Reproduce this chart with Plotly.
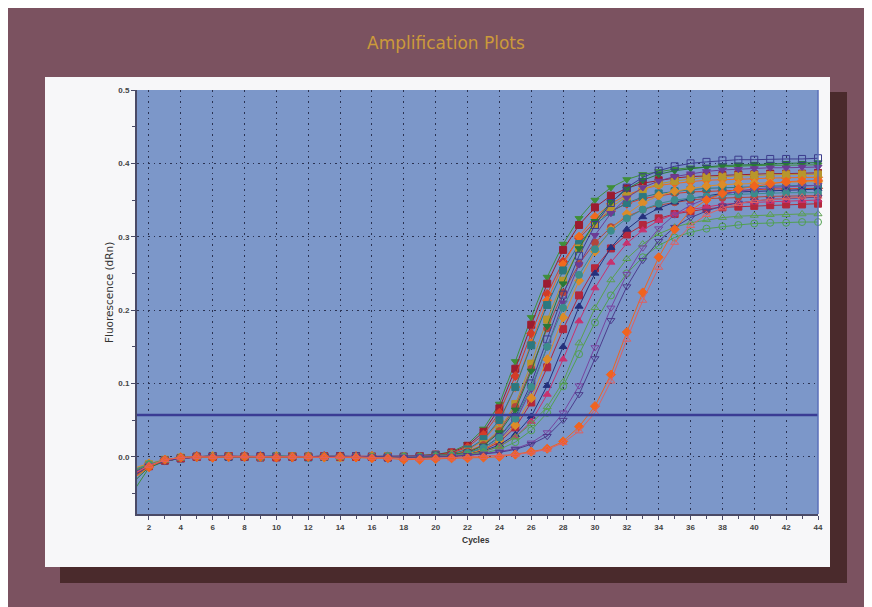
import plotly.graph_objects as go

cycles = list(range(1, 45))
x_tick_vals = list(range(2, 45, 2))
y_tick_vals = [0.0, 0.1, 0.2, 0.3, 0.4, 0.5]
y_tick_text = ["0.0", "0.1", "0.2", "0.3", "0.4", "0.5"]
threshold = 0.057

s01 = [-0.048,-0.015,-0.006,-0.002,0.000,0.001,0.000,0.001,0.000,0.001,0.000,0.000,0.001,0.000,0.000,-0.001,0.000,0.000,0.001,0.003,0.007,0.017,0.038,0.072,0.130,0.190,0.245,0.290,0.325,0.350,0.367,0.378,0.385,0.389,0.392,0.394,0.395,0.396,0.396,0.397,0.397,0.398,0.398,0.398]
s02 = [-0.025,-0.012,-0.005,-0.002,0.000,0.000,0.001,0.000,-0.001,0.000,0.001,0.000,0.000,0.001,0.000,0.000,-0.001,0.000,0.001,0.003,0.006,0.015,0.034,0.066,0.120,0.180,0.236,0.282,0.316,0.340,0.356,0.366,0.373,0.377,0.380,0.382,0.383,0.384,0.385,0.385,0.386,0.386,0.386,0.387]
s03 = [-0.020,-0.010,-0.004,-0.001,0.001,0.000,0.000,0.001,0.000,0.000,-0.001,0.000,0.001,0.000,0.000,0.001,0.000,-0.001,0.000,0.002,0.005,0.013,0.030,0.060,0.110,0.168,0.222,0.266,0.298,0.320,0.335,0.345,0.352,0.356,0.359,0.361,0.362,0.363,0.364,0.364,0.365,0.365,0.365,0.366]
s04 = [-0.030,-0.014,-0.004,-0.001,0.000,-0.001,0.000,0.000,0.001,0.000,0.000,0.000,-0.001,0.000,0.001,0.000,0.000,-0.002,-0.002,0.000,0.003,0.009,0.022,0.048,0.095,0.155,0.213,0.262,0.300,0.327,0.345,0.357,0.365,0.370,0.373,0.375,0.377,0.378,0.379,0.379,0.380,0.380,0.381,0.381]
s05 = [-0.022,-0.011,-0.005,-0.002,0.000,0.001,0.000,0.000,0.000,0.001,0.000,-0.001,0.000,0.000,0.001,0.000,0.000,0.000,0.000,0.002,0.004,0.010,0.024,0.050,0.095,0.152,0.207,0.254,0.290,0.316,0.334,0.346,0.354,0.359,0.362,0.364,0.366,0.367,0.368,0.368,0.369,0.369,0.370,0.370]
s06 = [-0.018,-0.010,-0.004,-0.001,0.000,0.000,0.001,0.000,0.000,0.000,0.001,0.000,0.000,-0.001,0.000,0.000,0.001,0.000,0.000,0.001,0.003,0.007,0.017,0.037,0.072,0.127,0.187,0.240,0.284,0.317,0.340,0.355,0.365,0.372,0.376,0.379,0.381,0.382,0.383,0.384,0.384,0.385,0.385,0.385]
s07 = [-0.028,-0.013,-0.006,-0.002,-0.001,0.000,0.000,0.001,0.000,0.000,0.000,0.001,0.000,0.000,-0.001,0.000,0.000,0.001,0.000,0.001,0.003,0.007,0.016,0.035,0.068,0.120,0.175,0.224,0.263,0.292,0.313,0.327,0.337,0.343,0.347,0.350,0.352,0.353,0.354,0.354,0.355,0.355,0.356,0.356]
s08 = [-0.035,-0.014,-0.006,-0.002,0.000,0.000,0.000,-0.001,0.000,0.001,0.000,0.000,0.000,0.001,0.000,0.000,0.000,0.000,0.001,0.001,0.003,0.006,0.015,0.033,0.064,0.117,0.178,0.236,0.284,0.321,0.347,0.365,0.377,0.385,0.390,0.393,0.395,0.397,0.398,0.399,0.399,0.400,0.400,0.401]
s09 = [-0.024,-0.012,-0.005,-0.002,0.000,0.001,0.000,0.000,0.001,0.000,0.000,0.000,0.000,0.000,0.001,0.000,-0.001,0.000,0.000,0.001,0.002,0.005,0.012,0.027,0.054,0.100,0.160,0.221,0.274,0.316,0.346,0.367,0.381,0.390,0.396,0.400,0.402,0.404,0.405,0.405,0.406,0.406,0.406,0.407]
s10 = [-0.020,-0.011,-0.005,-0.001,0.000,0.000,0.000,0.001,0.000,0.000,0.000,-0.001,0.000,0.001,0.000,0.000,0.000,0.000,0.000,0.001,0.002,0.004,0.010,0.023,0.048,0.092,0.150,0.210,0.262,0.302,0.332,0.353,0.367,0.376,0.382,0.386,0.389,0.391,0.392,0.393,0.394,0.394,0.395,0.395]
s11 = [-0.026,-0.013,-0.005,-0.002,0.000,0.000,0.001,0.000,0.000,-0.001,0.000,0.000,0.001,0.000,0.000,0.000,0.000,-0.001,0.000,0.000,0.002,0.004,0.009,0.020,0.040,0.074,0.122,0.174,0.220,0.257,0.284,0.303,0.316,0.325,0.331,0.335,0.338,0.340,0.341,0.342,0.343,0.344,0.344,0.345]
s12 = [-0.016,-0.009,-0.004,-0.001,0.000,0.001,0.000,0.000,0.000,0.001,0.000,0.000,-0.001,0.000,0.000,0.001,0.000,0.000,-0.001,0.000,0.002,0.004,0.010,0.022,0.043,0.080,0.133,0.190,0.240,0.280,0.310,0.331,0.346,0.356,0.362,0.366,0.369,0.371,0.372,0.373,0.374,0.374,0.375,0.375]
s13 = [-0.022,-0.011,-0.005,-0.002,0.000,0.000,0.000,0.000,0.001,0.000,0.000,0.001,0.000,0.000,0.000,-0.001,0.000,0.000,0.000,0.000,0.001,0.003,0.008,0.016,0.030,0.055,0.097,0.150,0.205,0.250,0.285,0.310,0.327,0.339,0.347,0.352,0.356,0.359,0.361,0.362,0.363,0.364,0.364,0.365]
s14 = [-0.024,-0.012,-0.005,-0.002,-0.001,0.000,0.000,0.000,0.000,0.000,0.001,0.000,0.000,0.000,0.001,0.000,0.000,0.000,0.000,0.000,0.001,0.003,0.007,0.014,0.027,0.048,0.085,0.133,0.185,0.230,0.265,0.291,0.309,0.322,0.331,0.337,0.341,0.344,0.346,0.347,0.348,0.349,0.349,0.350]
s15 = [-0.018,-0.010,-0.004,-0.001,0.000,0.000,0.000,0.000,-0.001,0.000,0.000,0.000,0.001,0.000,0.000,0.000,0.001,0.000,0.000,0.001,0.002,0.005,0.012,0.026,0.052,0.095,0.150,0.203,0.248,0.283,0.308,0.325,0.337,0.345,0.350,0.353,0.355,0.357,0.358,0.359,0.359,0.360,0.360,0.360]
s16 = [-0.030,-0.013,-0.005,-0.002,0.000,0.000,0.000,0.001,0.000,0.000,0.000,0.000,0.000,-0.001,0.000,0.000,0.000,0.001,0.000,0.000,0.001,0.003,0.007,0.014,0.027,0.045,0.068,0.102,0.155,0.203,0.241,0.270,0.290,0.304,0.313,0.319,0.323,0.326,0.328,0.329,0.330,0.330,0.331,0.331]
s17 = [-0.020,-0.011,-0.004,-0.001,0.000,0.000,0.001,0.000,0.000,0.000,0.000,0.001,0.000,0.000,0.000,0.000,-0.001,0.000,0.000,0.000,0.001,0.002,0.005,0.010,0.020,0.036,0.060,0.096,0.140,0.183,0.220,0.250,0.272,0.288,0.299,0.306,0.311,0.314,0.316,0.318,0.319,0.319,0.320,0.320]
s18 = [-0.022,-0.012,-0.005,-0.002,0.000,0.000,0.000,0.000,0.000,0.001,0.000,0.000,0.000,0.000,0.001,0.000,0.000,0.000,0.000,0.000,0.001,0.002,0.004,0.007,0.011,0.019,0.033,0.060,0.097,0.149,0.203,0.249,0.285,0.311,0.330,0.343,0.352,0.358,0.362,0.365,0.367,0.368,0.369,0.370]
s19 = [-0.026,-0.013,-0.006,-0.002,0.000,0.001,0.000,0.000,0.000,0.000,0.000,0.000,0.001,0.000,0.000,0.000,0.000,-0.001,0.000,0.000,0.000,0.002,0.003,0.006,0.010,0.017,0.028,0.050,0.085,0.134,0.186,0.232,0.268,0.294,0.313,0.326,0.335,0.342,0.346,0.349,0.351,0.352,0.353,0.354]
s20 = [-0.030,-0.014,-0.004,-0.001,0.000,-0.001,0.000,0.000,0.000,-0.001,0.000,0.000,0.000,0.000,-0.001,-0.002,-0.002,-0.004,-0.004,-0.003,-0.002,-0.002,-0.001,0.000,0.003,0.007,0.011,0.021,0.041,0.069,0.112,0.170,0.224,0.272,0.310,0.336,0.350,0.359,0.365,0.369,0.372,0.375,0.376,0.377]
s21 = [-0.024,-0.012,-0.004,-0.001,0.000,0.000,0.000,0.001,0.000,0.000,0.000,0.000,-0.001,0.000,0.000,-0.001,-0.001,-0.002,-0.003,-0.002,-0.002,-0.001,0.000,0.001,0.003,0.006,0.010,0.019,0.035,0.060,0.103,0.160,0.213,0.258,0.292,0.315,0.330,0.339,0.345,0.349,0.351,0.353,0.354,0.355]

series_values = [s01, s02, s03, s04, s05, s06, s07, s08, s09, s10, s11,
                 s12, s13, s14, s15, s16, s17, s18, s19, s20, s21]
series_colors = ["#3f8f3a", "#9c1c30", "#d23c28", "#f06a1e", "#2c7880",
                 "#b8962c", "#b4463c", "#287838", "#3c3c8c", "#6c3c94",
                 "#b4283c", "#dc8c28", "#24307c", "#c8326e", "#3c8c8c",
                 "#5aa050", "#50a050", "#7844a0", "#4c3c8c", "#f0641e",
                 "#e06060"]
series_symbols = ["triangle-down", "square", "diamond", "diamond", "square",
                  "square", "circle", "triangle-down", "square-open", "triangle-down",
                  "square", "diamond", "triangle-up", "triangle-up", "circle",
                  "triangle-up-open", "circle-open", "triangle-down-open",
                  "triangle-down-open", "diamond", "triangle-up-open"]

fig = go.Figure()
for vals, col, sym in zip(series_values, series_colors, series_symbols):
    fig.add_trace(go.Scatter(
        x=cycles, y=vals, mode="lines+markers",
        line=dict(color=col, width=1),
        marker=dict(symbol=sym, size=7, color=col,
                    line=dict(color=col, width=1)),
        cliponaxis=False, hoverinfo="skip", showlegend=False))

# threshold line
fig.add_shape(type="line", xref="paper", yref="y", x0=0, x1=1,
              y0=threshold, y1=threshold,
              line=dict(color="#3a3c94", width=2.5), layer="above")

# figure pixel frame (page has an 8px body margin)
L, R, T, B = 129, 810, 82, 506
def px(xp):
    return (xp - L) / (R - L)
def py(yp):
    return (B - yp) / (B - T)

# background decorations
fig.add_shape(type="rect", xref="paper", yref="paper", x0=px(52), x1=px(839),
              y0=py(575), y1=py(84), fillcolor="#4a2a2c", line=dict(width=0), layer="below")
fig.add_shape(type="rect", xref="paper", yref="paper", x0=px(37), x1=px(822),
              y0=py(559), y1=py(69), fillcolor="#f7f7f9", line=dict(width=0), layer="below")
fig.add_shape(type="rect", xref="paper", yref="paper", x0=0, x1=1,
              y0=0, y1=1, fillcolor="#7c97c9", line=dict(width=0), layer="below")
fig.add_shape(type="line", xref="paper", yref="paper", x0=1, x1=1,
              y0=0, y1=1, line=dict(color="#5a6fb8", width=1.5), layer="above")

fig.add_annotation(text="Fluorescence (dRn)", xref="paper", yref="paper",
                   x=px(93), y=py(285), textangle=-90, showarrow=False,
                   font=dict(family="DejaVu Sans", size=10.5, color="#333"))
fig.add_annotation(text="<b>Cycles</b>", xref="paper", yref="paper",
                   x=px(468), y=py(539), showarrow=False,
                   font=dict(family="Liberation Sans", size=8.5, color="#333"))

axis_font = dict(family="Liberation Sans", size=8, color="#444")
grid_dash = "1.5px,4px"
fig.update_layout(
    width=872, height=607,
    margin=dict(l=L, r=872 - R, t=T, b=607 - B),
    paper_bgcolor="#7b5260",
    plot_bgcolor="rgba(0,0,0,0)",
    title=dict(text="Amplification Plots", x=438 / 872, y=1 - 35 / 607,
               xanchor="center", yanchor="middle",
               font=dict(family="DejaVu Sans", size=17, color="#cc9a3a")),
    xaxis=dict(range=[1.25, 44], tickvals=x_tick_vals,
               ticktext=[f"<b>{v}</b>" for v in x_tick_vals],
               showgrid=True, gridcolor="#2a3252", griddash=grid_dash, gridwidth=1.2,
               showline=True, linecolor="#4a4a66", linewidth=2,
               ticks="outside", ticklen=4, tickcolor="#4a4a66",
               minor=dict(dtick=1, ticks="outside", ticklen=3, tickcolor="#4a4a66", showgrid=False),
               tickfont=axis_font, zeroline=False),
    yaxis=dict(range=[-0.078, 0.5], tickvals=y_tick_vals,
               ticktext=[f"<b>{t}</b>" for t in y_tick_text],
               showgrid=True, gridcolor="#2a3252", griddash=grid_dash, gridwidth=1.2,
               showline=True, linecolor="#4a4a66", linewidth=2,
               ticks="outside", ticklen=4, tickcolor="#4a4a66",
               minor=dict(dtick=0.05, ticks="outside", ticklen=3, tickcolor="#4a4a66", showgrid=False),
               tickfont=axis_font, zeroline=False),
)

fig.write_html("out.html")
